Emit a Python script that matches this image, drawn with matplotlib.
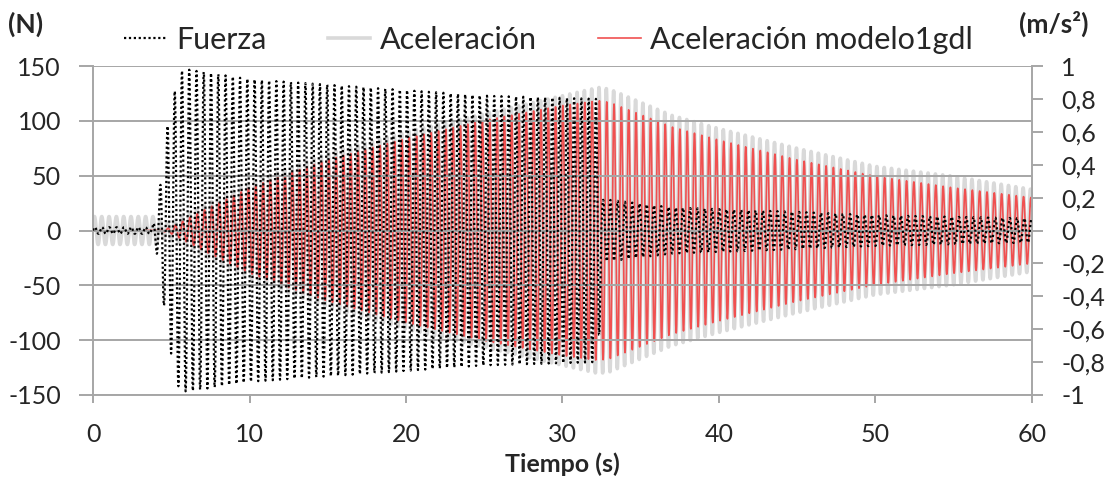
import numpy as np
import matplotlib
matplotlib.use("Agg")
import matplotlib.pyplot as plt
from matplotlib.lines import Line2D
from matplotlib.ticker import FuncFormatter, MultipleLocator

plt.rcParams["font.family"] = ["Lato", "DejaVu Sans"]
plt.rcParams["axes.unicode_minus"] = False

# excitation / response frequency (Hz) and sampling rate
FREQ_HZ = 2.14
FS_HZ = 200

# amplitude envelopes (time s, amplitude)
force_t = [0, 3.8, 4.2, 4.8, 5.5, 6.0, 10, 15, 20, 25, 32.3, 32.5, 33, 37, 45, 50, 60]
force_amp = [3, 3, 30, 100, 145, 147, 138, 133, 128, 123, 120, 28, 28, 21, 17, 14, 11]

acc_t = [0, 4.0, 4.5, 5.0, 7, 10, 15, 20, 25, 30, 32.3, 33, 37, 40, 45, 50, 55, 60]
acc_amp = [0.085, 0.085, 0.05, 0.05, 0.15, 0.29, 0.47, 0.60, 0.71, 0.82, 0.87, 0.86, 0.70,
           0.62, 0.50, 0.39, 0.33, 0.25]

model_t = [3.3, 4.3, 5.0, 7, 10, 12, 15, 20, 25, 30, 32.3, 33, 37, 40, 45, 50, 55, 60]
model_amp = [0, 0, 0.02, 0.12, 0.26, 0.33, 0.43, 0.56, 0.67, 0.76, 0.79, 0.78, 0.63,
             0.55, 0.43, 0.33, 0.26, 0.20]


def signal(t0, t1, knots_t, knots_a, phase=0.0, freq=FREQ_HZ):
    t = np.arange(t0, t1 + 1e-9, 1.0 / FS_HZ)
    env = np.interp(t, knots_t, knots_a)
    return t, env * np.sin(2 * np.pi * freq * t + phase)


def comma(v, pos):
    s = f"{v:.1f}".rstrip("0").rstrip(".")
    if s in ("-0", "0"):
        return "0"
    return s.replace(".", ",")


fig = plt.figure(figsize=(11.1, 4.82), dpi=100)
ax = fig.add_axes([0.0838, 0.1805, 0.8459, 0.6825])
ax2 = ax.twinx()

grid_c = "#a6a6a6"
text_c = "#262626"
tf, yf = signal(0, 60, force_t, force_amp, freq=2.155)
ta, ya = signal(0, 60, acc_t, acc_amp, phase=0.35)
tm, ym = signal(3.3, 60, model_t, model_amp)

ax2.plot(ta, ya, color="#d9d9d9", lw=2.6, zorder=1)
ax2.plot(tm, ym, color="#f05050", lw=1.2, zorder=2)
ax.plot(tf, yf, color="black", lw=1.6, ls=(0, (1, 1.2)), zorder=3)
ax.set_zorder(ax2.get_zorder() + 1)
ax.patch.set_visible(False)

ax.set_xlim(0, 60)
ax.set_ylim(-150, 150)
ax2.set_ylim(-1, 1)
ax.xaxis.set_major_locator(MultipleLocator(10))
ax.yaxis.set_major_locator(MultipleLocator(50))
ax2.yaxis.set_major_locator(MultipleLocator(0.2))
ax2.yaxis.set_major_formatter(FuncFormatter(comma))
ax.yaxis.grid(True, color=grid_c, lw=1.4)

for a in (ax, ax2):
    for side, sp in a.spines.items():
        sp.set_color(grid_c)
        sp.set_linewidth(1.4)
    a.spines["top"].set_visible(False)
ax.spines["right"].set_visible(False)
ax2.spines["left"].set_visible(False)
ax2.spines["bottom"].set_visible(False)

ax.tick_params(axis="x", length=6, width=1.4, color=grid_c, labelsize=18, pad=14,
               labelcolor=text_c)
ax.tick_params(axis="y", length=10, width=1.4, color=grid_c, labelsize=18, pad=13,
               labelcolor=text_c)
ax2.tick_params(axis="y", length=8, width=1.4, color=grid_c, labelsize=18, pad=13,
                labelcolor=text_c)

ax.set_xlabel("Tiempo (s)", fontsize=18, fontweight="bold", labelpad=5, color=text_c)
fig.text(0.007, 0.95, "(N)", fontsize=19, fontweight="bold", va="center", color=text_c)
fig.text(0.918, 0.95, "(m/s²)", fontsize=19, fontweight="bold", va="center", color=text_c)

handles = [
    Line2D([], [], color="black", lw=1.6, ls=(0, (1, 1.2))),
    Line2D([], [], color="#d9d9d9", lw=2.6),
    Line2D([], [], color="#f05050", lw=1.2),
]
labels = ["Fuerza", "Aceleración", "Aceleración modelo1gdl"]
leg = fig.legend(handles, labels, loc="center", bbox_to_anchor=(0.494, 0.917), ncol=3,
                 frameon=False, fontsize=22, handlelength=1.4, handletextpad=0.3,
                 columnspacing=2.0)
for txt in leg.get_texts():
    txt.set_color(text_c)

fig.savefig("out.png", dpi=100)
